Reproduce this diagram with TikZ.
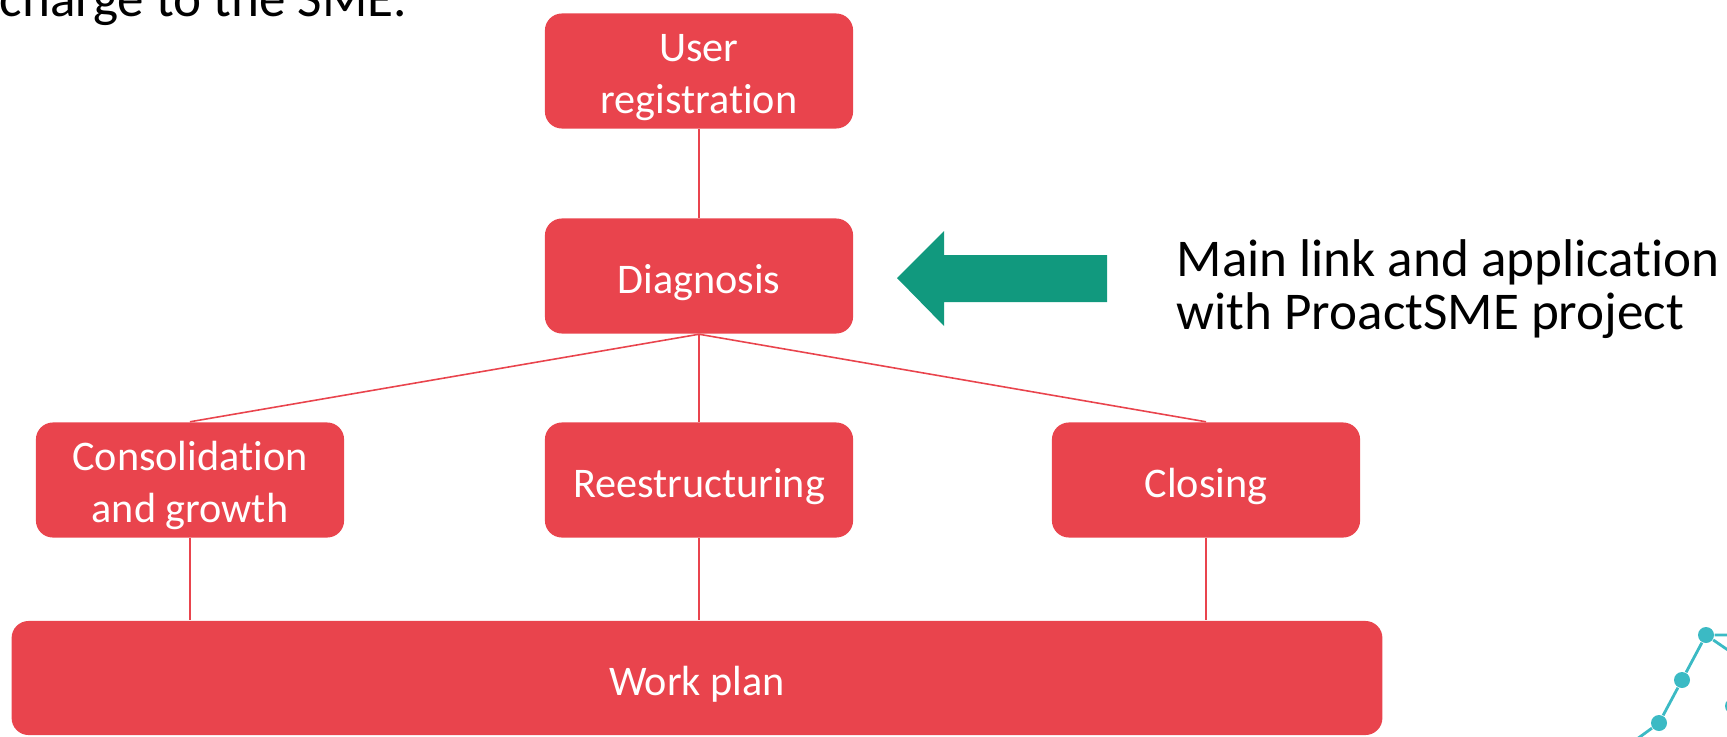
\documentclass[tikz,border=0pt]{standalone}
\usepackage{fontspec}
\setmainfont{Carlito}[Ligatures=CommonOff]
\definecolor{boxred}{HTML}{E9444D}
\definecolor{arrowgreen}{HTML}{11997E}
\definecolor{dotteal}{HTML}{3BBAC4}
\tikzset{
  stagebox/.style={rectangle, fill=boxred, rounded corners=0.17cm,
    minimum width=3.08cm, minimum height=1.15cm, inner sep=0pt,
    align=center, text=white, text height=12pt,
    font=\fontsize{12}{14.7}\selectfont},
  twoline/.style={text height=26.2pt},
  link/.style={draw=boxred, line width=0.45pt},
  dotnode/.style={circle, fill=dotteal, inner sep=0pt, minimum size=0.16cm},
}
\begin{document}
\begin{tikzpicture}[x=0.01cm, y=-0.01cm]
        \useasboundingbox (0,0) rectangle (1727,736);
        \clip (0,0) rectangle (1727,736);
        % Define the nodes for the stages
        \node[stagebox,twoline] (ureg) at (699,71)  {User\\registration};
        \node[stagebox]         (diag) at (699,276) {Diagnosis};
        \node[stagebox,twoline] (cons) at (190,480) {Consolidation\\and growth};
        \node[stagebox]         (rest) at (699,480) {Reestructuring};
        \node[stagebox]         (clos) at (1206,480) {Closing};
        \node[stagebox, minimum width=13.70cm, minimum height=1.14cm] (plan) at (697,678) {Work plan};
        % Connect the nodes for the stages
        \draw[link] (ureg) -- (diag);
        \draw[link] (diag.south) -- (cons.north);
        \draw[link] (diag.south) -- (rest.north);
        \draw[link] (diag.south) -- (clos.north);
        \draw[link] (cons.south) -- (cons.south |- plan.north);
        \draw[link] (rest.south) -- (rest.south |- plan.north);
        \draw[link] (clos.south) -- (clos.south |- plan.north);
        % Arrow and note on the right
        \fill[arrowgreen] (897,278) -- (944,231) -- (944,255) -- (1107,255)
            -- (1107,302) -- (944,302) -- (944,326) -- cycle;
        \node[anchor=base west, inner sep=0pt, align=left,
              font=\fontsize{15.1}{14.9}\selectfont] (note) at (1176,329)
              {Main link and application\\with ProactSME project};
        % Text cut at the top
        \node[anchor=base west, inner sep=0pt,
              font=\fontsize{15.1}{15.1}\selectfont] (topline) at (-1,16)
              {charge to the SME.};
        % Corner decoration
        \node[dotnode] (d1) at (1706,635) {};
        \node[dotnode] (d2) at (1682,680) {};
        \node[dotnode] (d3) at (1659,723) {};
        \node[dotnode] (d4) at (1733,706) {};
        \coordinate (e1) at (1760,635);
        \coordinate (e2) at (1760,672);
        \coordinate (e3) at (1615,755);
        \draw[dotteal, line width=0.8pt] (e1) -- (d1) -- (d2) -- (d3) -- (e3);
        \draw[dotteal, line width=0.8pt] (d1) -- (e2);
\end{tikzpicture}
\end{document}
